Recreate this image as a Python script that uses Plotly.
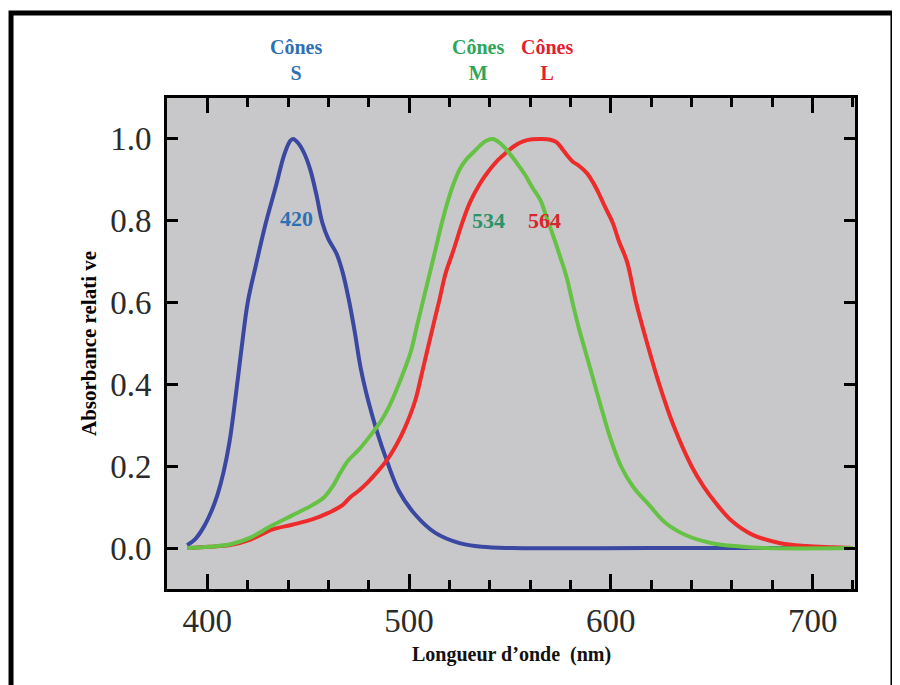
import plotly.graph_objects as go

# Cônes S (bleu)
S_wl = [390, 394, 398, 402, 405, 408, 411, 414, 417, 420, 424, 429, 434, 438, 441, 442.5, 445, 448, 451, 454, 457, 460, 464, 467, 470, 473, 476, 480, 484, 489, 495, 503, 513, 525, 536, 551, 620, 720]
S_abs = [0.007, 0.022, 0.05, 0.09, 0.13, 0.185, 0.26, 0.37, 0.49, 0.6, 0.69, 0.795, 0.885, 0.96, 0.995, 1.0, 0.99, 0.965, 0.925, 0.865, 0.795, 0.755, 0.72, 0.675, 0.61, 0.53, 0.44, 0.355, 0.286, 0.213, 0.139, 0.082, 0.037, 0.012, 0.003, 0.0, 0.0, 0.0]

# Cônes M (vert)
M_wl = [390, 401, 412, 421, 432, 442, 452, 458, 462, 466, 470, 475, 480, 486, 490, 494, 498, 501, 504, 507, 510, 513, 516, 519, 522, 525, 528, 532, 535, 538, 541.5, 545, 548, 551, 555, 558, 561, 565, 568, 571, 575, 578, 581, 584, 588, 592, 596, 600, 605, 611, 619, 627, 637, 650, 664, 677, 720]
M_abs = [0.0, 0.003, 0.01, 0.025, 0.055, 0.08, 0.105, 0.125, 0.15, 0.185, 0.215, 0.24, 0.27, 0.31, 0.345, 0.39, 0.44, 0.483, 0.545, 0.606, 0.667, 0.728, 0.79, 0.845, 0.89, 0.925, 0.948, 0.968, 0.983, 0.995, 1.0, 0.99, 0.975, 0.957, 0.93, 0.908, 0.882, 0.851, 0.81, 0.769, 0.71, 0.663, 0.6, 0.54, 0.47, 0.4, 0.33, 0.265, 0.2, 0.15, 0.105, 0.062, 0.032, 0.012, 0.004, 0.0, 0.0]

# Cônes L (rouge)
L_wl = [390, 401, 412, 421, 432, 442, 452, 460, 467, 471, 475, 479, 484, 489, 494, 498, 503, 506, 509, 512, 515, 518, 522, 526, 530, 535, 540, 544, 548, 552, 556.5, 561, 566, 570, 573, 576, 578, 581, 584, 588, 591, 594, 597, 601, 604, 608, 612.5, 618, 624, 631, 640, 646, 652, 660, 670, 684, 697, 710, 720]
L_abs = [0.0, 0.003, 0.008, 0.02, 0.045, 0.057, 0.07, 0.086, 0.105, 0.125, 0.14, 0.158, 0.185, 0.215, 0.255, 0.295, 0.36, 0.42, 0.483, 0.545, 0.606, 0.67, 0.728, 0.79, 0.843, 0.89, 0.925, 0.948, 0.966, 0.982, 0.994, 0.999, 1.0, 0.998, 0.992, 0.975, 0.962, 0.945, 0.935, 0.917, 0.895, 0.867, 0.835, 0.794, 0.75, 0.7, 0.6, 0.5, 0.4, 0.3, 0.2, 0.15, 0.11, 0.066, 0.033, 0.012, 0.005, 0.002, 0.0]

cone_names = ["Cônes<br>S", "Cônes<br>M", "Cônes<br>L"]
cone_label_x = [444, 534, 568.5]
peak_labels = ["420", "534", "564"]
peak_label_x = [444, 539.5, 567]
peak_label_y = [0.805, 0.80, 0.80]

line_colors = ["#3a48a2", "#66c244", "#ee2b2b"]
head_colors = ["#2f6fb3", "#2fa559", "#e21f2f"]
peak_colors = ["#2f6fb3", "#2a9468", "#d8262b"]

fig = go.Figure()
fig.add_trace(go.Scatter(x=S_wl, y=S_abs, mode="lines", line=dict(color=line_colors[0], width=4, shape="spline", smoothing=1.0), showlegend=False))
fig.add_trace(go.Scatter(x=L_wl, y=L_abs, mode="lines", line=dict(color=line_colors[2], width=4, shape="spline", smoothing=1.0), showlegend=False))
fig.add_trace(go.Scatter(x=M_wl, y=M_abs, mode="lines", line=dict(color=line_colors[1], width=4, shape="spline", smoothing=1.0), showlegend=False))

serif = "Liberation Serif"
for name, xv, c in zip(cone_names, cone_label_x, head_colors):
    fig.add_annotation(x=xv, xref="x", y=1.0, yref="paper", xanchor="center", yanchor="bottom", yshift=12,
                       text="<b>" + name + "</b>", showarrow=False,
                       font=dict(family=serif, size=20, color=c), align="center")
for t, xv, yv, c in zip(peak_labels, peak_label_x, peak_label_y, peak_colors):
    fig.add_annotation(x=xv, y=yv, text="<b>" + t + "</b>", showarrow=False, xanchor="center", yanchor="middle",
                       font=dict(family=serif, size=22, color=c))

fig.add_annotation(x=-0.1134, xref="paper", y=0.501, yref="paper", textangle=-90,
                   xanchor="center", yanchor="middle",
                   text="<b>Absorbance relati ve</b>", showarrow=False,
                   font=dict(family=serif, size=21, color="black"))
fig.add_annotation(x=0.5, xref="paper", y=-0.1344, yref="paper", xanchor="center", yanchor="middle",
                   text="<b>Longueur d’onde  (nm)</b>", showarrow=False,
                   font=dict(family=serif, size=20, color="#111"))

# outer frame
fig.add_shape(type="rect", xref="paper", yref="paper", x0=-0.2267, x1=1.0552, y0=-0.23, y1=1.1731,
              line=dict(color="black", width=5), fillcolor="rgba(0,0,0,0)", layer="above")

fig.update_xaxes(range=[380, 721], tick0=400, dtick=100, ticks="inside", ticklen=15, tickwidth=3,
                 tickcolor="black", showline=True, linewidth=3, linecolor="black", mirror="ticks",
                 showgrid=False, zeroline=False,
                 minor=dict(dtick=20, tick0=400, ticks="inside", ticklen=9, tickwidth=3, tickcolor="black", showgrid=False),
                 tickfont=dict(family=serif, size=33, color="#2b2b2b"), ticklabelstandoff=0)
fig.update_yaxes(range=[-0.1, 1.1], tick0=0, dtick=0.2, tickformat=".1f", ticks="inside", ticklen=11, tickwidth=3,
                 tickcolor="black", showline=True, linewidth=3, linecolor="black", mirror="ticks",
                 showgrid=False, zeroline=False,
                 tickfont=dict(family=serif, size=33, color="#2b2b2b"), ticklabelstandoff=6)

fig.update_layout(width=892, height=677, margin=dict(l=159, r=45, t=90, b=96),
                  plot_bgcolor="#c8c8ca", paper_bgcolor="white", showlegend=False)

fig.write_html("out.html")
